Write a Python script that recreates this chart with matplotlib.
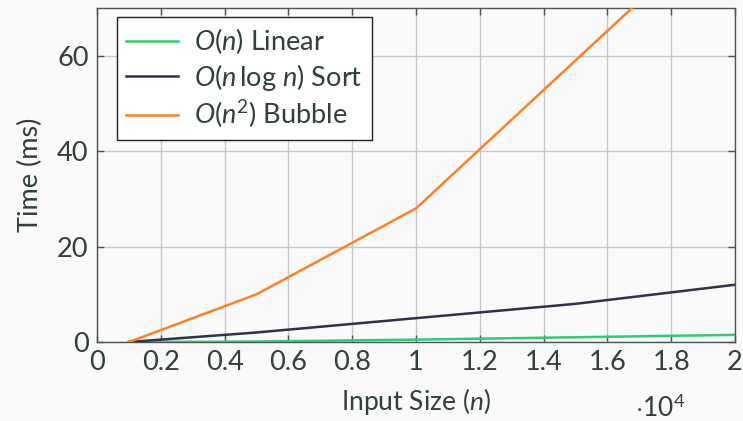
import numpy as np
import matplotlib
matplotlib.use('Agg')
import matplotlib.pyplot as plt
from matplotlib.ticker import FuncFormatter

# data
n = [1000, 5000, 10000, 15000, 20000]
t_linear = [0, 0.1, 0.5, 1.0, 1.5]
t_sort = [0, 2, 5, 8, 12]
t_bubble = [0, 10, 28, 59, 90]

labels = [r'$O(n)$ Linear', r'$O(n\,\log\,n)$ Sort', r'$O(n^2)$ Bubble']
colors = ['#2ecc71', '#2c3446', '#ff7f2a']
txt = '#2f3f3f'
frame = '#4a5555'

plt.rcParams['font.family'] = ['Lato', 'DejaVu Sans']
plt.rcParams['mathtext.fontset'] = 'custom'
plt.rcParams['mathtext.rm'] = 'Lato'
plt.rcParams['mathtext.it'] = 'Lato:italic'
plt.rcParams['text.color'] = txt
plt.rcParams['axes.labelcolor'] = txt
plt.rcParams['xtick.color'] = frame
plt.rcParams['ytick.color'] = frame
plt.rcParams['xtick.labelcolor'] = txt
plt.rcParams['ytick.labelcolor'] = txt

fig = plt.figure(figsize=(7.43, 4.21), dpi=100, facecolor='#fafafa')
ax = fig.add_axes([0.1306, 0.1876, 0.8586, 0.7934])
ax.set_facecolor('#fafafa')

for y, lab, c in zip([t_linear, t_sort, t_bubble], labels, colors):
    ax.plot(n, y, color=c, lw=1.8, label=lab, zorder=3)

ax.set_xlim(0, 20000)
ax.set_ylim(0, 70)
ax.set_xticks(np.arange(0, 20001, 2000))
ax.set_yticks([0, 20, 40, 60])
ax.xaxis.set_major_formatter(FuncFormatter(lambda v, p: '%g' % (v / 10000)))
ax.grid(True, color='#c8c8c8', lw=1.0)
ax.set_axisbelow(True)
ax.tick_params(direction='in', top=True, right=True, length=5, width=1, labelsize=19.5, pad=6)
for s in ax.spines.values():
    s.set_color(frame)
    s.set_linewidth(1.0)

ax.set_xlabel('Input Size ($n$)', fontsize=19, labelpad=8)
ax.set_ylabel('Time (ms)', fontsize=19.5, labelpad=10)
ax.text(0.882, -0.2, r'$\cdot10^4$', transform=ax.transAxes, fontsize=19,
        ha='center', va='center', color=txt)

leg = ax.legend(loc='upper left', bbox_to_anchor=(0.031, 0.973), fontsize=19.5, handlelength=1.9,
                fancybox=False, framealpha=1, edgecolor='#222222', borderpad=0.35,
                labelspacing=0.2, handletextpad=0.6, borderaxespad=0)
leg.get_frame().set_linewidth(1.0)
for t in leg.get_texts():
    t.set_ha('center')

fig.savefig('out.png', dpi=100, facecolor=fig.get_facecolor())
